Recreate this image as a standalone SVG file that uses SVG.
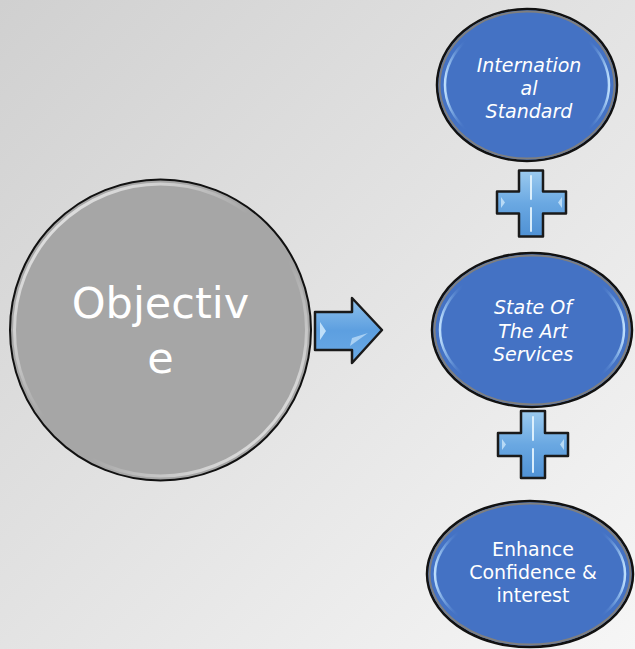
<svg xmlns="http://www.w3.org/2000/svg" width="635" height="649" viewBox="0 0 635 649">
<defs>
<linearGradient id="bg" x1="0" y1="0" x2="1" y2="1">
<stop offset="0" stop-color="#d0d0d0"/>
<stop offset="1" stop-color="#f6f6f6"/>
</linearGradient>
<linearGradient id="blueHi" x1="0" y1="0" x2="1" y2="0">
<stop offset="0" stop-color="#c4e4ff" stop-opacity="0.95"/>
<stop offset="0.05" stop-color="#9ccaf5" stop-opacity="0.5"/>
<stop offset="0.13" stop-color="#4472c4" stop-opacity="0"/>
<stop offset="0.87" stop-color="#4472c4" stop-opacity="0"/>
<stop offset="0.95" stop-color="#9ccaf5" stop-opacity="0.5"/>
<stop offset="1" stop-color="#c4e4ff" stop-opacity="0.95"/>
</linearGradient>
<linearGradient id="greyHi" x1="0" y1="0" x2="1" y2="1">
<stop offset="0" stop-color="#ffffff" stop-opacity="1"/>
<stop offset="0.25" stop-color="#ffffff" stop-opacity="0.6"/>
<stop offset="0.45" stop-color="#ffffff" stop-opacity="0"/>
<stop offset="0.6" stop-color="#ffffff" stop-opacity="0"/>
<stop offset="0.8" stop-color="#ffffff" stop-opacity="0.6"/>
<stop offset="1" stop-color="#ffffff" stop-opacity="1"/>
</linearGradient>
<linearGradient id="plusFill" x1="0" y1="0" x2="0" y2="1">
<stop offset="0" stop-color="#9ccbef"/>
<stop offset="0.5" stop-color="#6aa8e2"/>
<stop offset="1" stop-color="#4f91d4"/>
</linearGradient>
<linearGradient id="arrowFill" x1="0" y1="0" x2="0" y2="1">
<stop offset="0" stop-color="#8fc2ec"/>
<stop offset="0.5" stop-color="#5d9fe0"/>
<stop offset="1" stop-color="#6aaae6"/>
</linearGradient>
<style>
.ell{fill:#4472c4;stroke:#111;stroke-width:2.5}
.ring{fill:none;stroke:#7f7f7f;stroke-width:2}
.hi{fill:none;stroke:url(#blueHi);stroke-width:2.5}
.bt{fill:#fff;font-family:"DejaVu Sans",sans-serif;font-size:19px;text-anchor:middle}
.it{font-style:italic;font-size:19px}
.big{fill:#fff;font-family:"DejaVu Sans",sans-serif;font-size:43px;text-anchor:middle}
.sym{fill:url(#plusFill);stroke:#1a1a1a;stroke-width:2.5;stroke-linejoin:round}
.shine{stroke:#e6f6ff;stroke-width:2;stroke-linecap:round;opacity:0.9}
</style>
</defs>
<rect x="0" y="0" width="635" height="649" fill="url(#bg)"/>

<g id="objective">
<circle cx="160.5" cy="330" r="150.5" fill="#a6a6a6" stroke="#111" stroke-width="2"/>
<circle cx="160.5" cy="330" r="146" fill="none" stroke="url(#greyHi)" stroke-width="3" opacity="0.8"/>
<text class="big" x="160.5" y="318">Objectiv</text>
<text class="big" x="160.5" y="373">e</text>
</g>

<g id="connectors">
<g id="arrow">
<path d="M315,312 H352 V298 L382,330 L352,363 V350 H315 Z" fill="url(#arrowFill)" stroke="#1a1a1a" stroke-width="2.5" stroke-linejoin="round"/>
<path d="M320,322 L326,331 L320,340 Z" fill="#d8efff" opacity="0.8"/>
<path d="M352,338 L368,333 L350,346 Z" fill="#d8efff" opacity="0.6"/>
</g>
<g id="plus1">
<path class="sym" d="M519,170.5 H543 V191.5 H566 V213.5 H543 V236.5 H519 V213.5 H497 V191.5 H519 Z"/>
<line class="shine" x1="531" y1="176" x2="531" y2="199"/>
<line class="shine" x1="531" y1="208" x2="531" y2="231"/>
<path d="M501,197 L505,202.5 L501,208 Z" fill="#d8efff" opacity="0.7"/>
<path d="M562,197 L558,202.5 L562,208 Z" fill="#d8efff" opacity="0.7"/>
</g>
<g id="plus2">
<path class="sym" d="M521,411 H545 V433 H568 V456 H545 V478 H521 V456 H498 V433 H521 Z"/>
<line class="shine" x1="533" y1="417" x2="533" y2="440"/>
<line class="shine" x1="533" y1="449" x2="533" y2="472"/>
<path d="M502,439 L506,444.5 L502,450 Z" fill="#d8efff" opacity="0.7"/>
<path d="M564,439 L560,444.5 L564,450 Z" fill="#d8efff" opacity="0.7"/>
</g>
</g>

<g id="international">
<ellipse class="ell" cx="527" cy="85" rx="90" ry="76"/>
<ellipse class="ring" cx="527" cy="85" rx="87.5" ry="73.5"/>
<ellipse class="hi" cx="527" cy="85" rx="82" ry="66"/>
<text class="bt it" x="529" y="72">Internation</text>
<text class="bt it" x="529" y="95">al</text>
<text class="bt it" x="529" y="118">Standard</text>
</g>

<g id="stateart">
<ellipse class="ell" cx="532" cy="330" rx="100" ry="77"/>
<ellipse class="ring" cx="532" cy="330" rx="97.5" ry="74.5"/>
<ellipse class="hi" cx="532" cy="330" rx="92" ry="67"/>
<text class="bt it" x="533" y="314">State Of</text>
<text class="bt it" x="533" y="338">The Art</text>
<text class="bt it" x="533" y="361">Services</text>
</g>

<g id="enhance">
<ellipse class="ell" cx="530" cy="574" rx="103" ry="73"/>
<ellipse class="ring" cx="530" cy="574" rx="100.5" ry="70.5"/>
<ellipse class="hi" cx="530" cy="574" rx="95" ry="63"/>
<text class="bt" x="533" y="556">Enhance</text>
<text class="bt" x="533" y="579">Confidence &amp;</text>
<text class="bt" x="533" y="602">interest</text>
</g>
</svg>
